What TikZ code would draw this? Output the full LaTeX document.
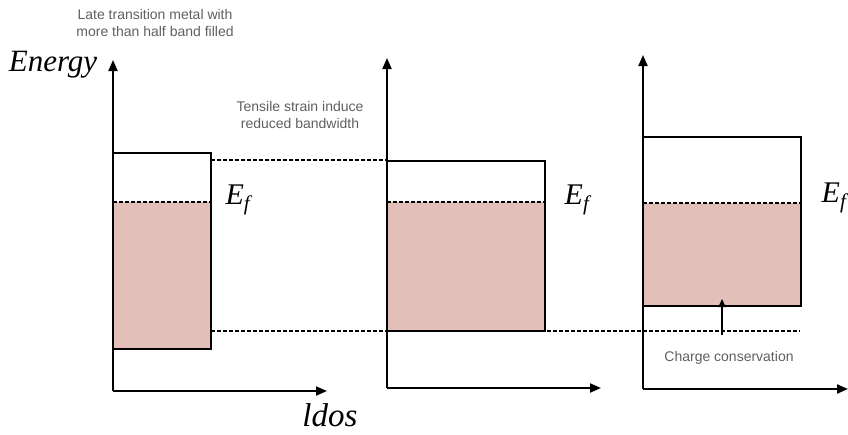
\documentclass[tikz,border=0pt]{standalone}
\usepackage{fontspec}
\setmainfont{Liberation Serif}
\setsansfont{Liberation Sans}
\usetikzlibrary{arrows.meta, positioning}
\definecolor{bandfill}{RGB}{227,191,185}
\definecolor{notegray}{RGB}{95,95,95}

\begin{document}
\begin{tikzpicture}[
  x=1pt, y=-1pt,
  axis/.style={line width=2pt, -{Triangle[length=11pt, width=9pt]}},
  band/.style={draw, line width=1.3pt},
  filled/.style={fill=bandfill},
  level/.style={dash pattern=on 3.5pt off 2.5pt, line width=1.4pt},
  note/.style={font=\fontsize{14}{17}\selectfont\sffamily, text=notegray, align=center},
  big/.style={font=\fontsize{31}{34}\selectfont\itshape},
  efl/.style={font=\fontsize{30}{32}\selectfont}
]
  \useasboundingbox (0,0) rectangle (848,434);

  %% Panel 1: original band
  \coordinate (o1) at (113,391);
  \fill[filled] (113,202) rectangle (211,349);
  \draw[band] (113,153) rectangle (211,349);
  \draw[level] (113,202) -- (211,202);
  \draw[axis] (o1) -- (113,60);
  \draw[axis] (o1) -- (327,391);

  %% Panel 2: reduced bandwidth
  \coordinate (o2) at (387,388);
  \fill[filled] (387,202) rectangle (545,331);
  \draw[band] (387,161) rectangle (545,331);
  \draw[level] (387,202) -- (545,202);
  \draw[axis] (o2) -- (387,58);
  \draw[axis] (o2) -- (601,388);

  %% Panel 3: shifted band
  \coordinate (o3) at (643,389);
  \fill[filled] (643,203) rectangle (801,306);
  \draw[band] (643,137) rectangle (801,306);
  \draw[level] (643,203) -- (801,203);
  \draw[axis] (o3) -- (643,55);
  \draw[axis] (o3) -- (848,389);

  %% Guide lines between panels
  \draw[level] (211,160) -- (387,160);
  \draw[level] (211,331) -- (800,331);

  %% Charge conservation shift
  \coordinate (shiftfrom) at (722,335);
  \coordinate (shiftto) at (722,299);
  \draw[line width=1.3pt, -{Triangle[length=8pt, width=7pt]}] (shiftfrom) -- (shiftto);

  %% Labels
  \node[note] (latenote) at (155,23) {Late transition metal with\\more than half band filled};
  \node[note] (tensile) at (300,115) {Tensile strain induce\\reduced bandwidth};
  \node[note] (charge) at (729,358) {Charge conservation};
  \node[big] (energy) at (53,65) {Energy};
  \node[big, font=\fontsize{33}{36}\selectfont\itshape] (ldos) at (330,415) {ldos};
  \node[efl] (ef1) at (238,200) {$\mathit{E}_{\mathit{f}}$};
  \node[efl] (ef2) at (577,200) {$\mathit{E}_{\mathit{f}}$};
  \node[efl] (ef3) at (834,198) {$\mathit{E}_{\mathit{f}}$};

\end{tikzpicture}
\end{document}
